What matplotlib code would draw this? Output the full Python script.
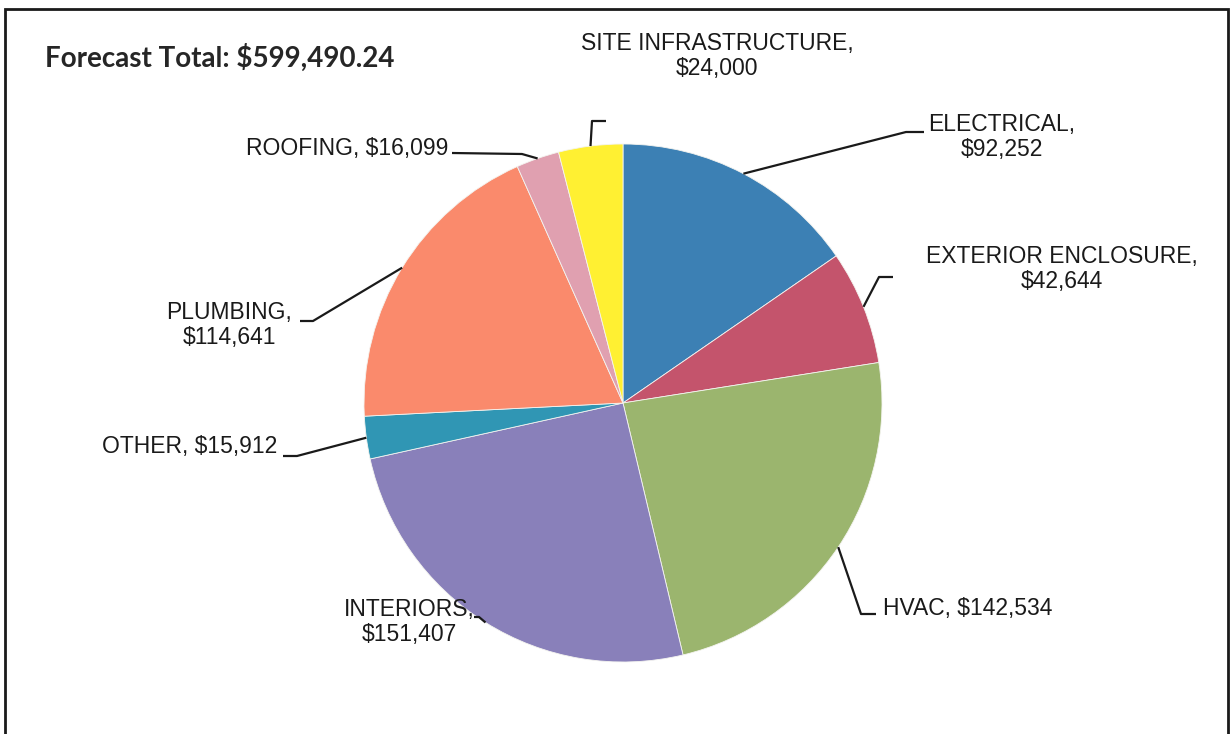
import numpy as np
import matplotlib.pyplot as plt
from matplotlib.patches import Rectangle

W, H = 1231, 734

categories = ["ELECTRICAL", "EXTERIOR ENCLOSURE", "HVAC", "INTERIORS",
              "OTHER", "PLUMBING", "ROOFING", "SITE INFRASTRUCTURE"]
values = [92252, 42644, 142534, 151407, 15912, 114641, 16099, 24000]
colors = ["#3C80B4", "#C4546C", "#9BB56E", "#8980BA",
          "#3096B4", "#FA8A6C", "#E0A0B0", "#FFF032"]
title_text = "Forecast Total: $599,490.24"

# label layout (pixel coords, y from top): text pos, alignment, elbow point, line end near text
label_layout = {
    "ELECTRICAL":          dict(text=(1002, 137), ha="center", lines="ELECTRICAL,\n$92,252", elbow=(906, 132), end=(924, 132)),
    "EXTERIOR ENCLOSURE":  dict(text=(1062, 269), ha="center", lines="EXTERIOR ENCLOSURE,\n$42,644", elbow=(879, 277), end=(893, 277)),
    "HVAC":                dict(text=(883, 608), ha="left", lines="HVAC, $142,534", elbow=(861, 614), end=(876, 614)),
    "INTERIORS":           dict(text=(409, 622), ha="center", lines="INTERIORS,\n$151,407", elbow=(479, 617), end=(474, 617)),
    "OTHER":               dict(text=(277, 446), ha="right", lines="OTHER, $15,912", elbow=(297, 456), end=(283, 456)),
    "PLUMBING":            dict(text=(229, 325), ha="center", lines="PLUMBING,\n$114,641", elbow=(313, 321), end=(300, 321)),
    "ROOFING":             dict(text=(448, 148), ha="right", lines="ROOFING, $16,099", elbow=(522, 154), end=(452, 153)),
    "SITE INFRASTRUCTURE": dict(text=(717, 56), ha="center", lines="SITE INFRASTRUCTURE,\n$24,000", elbow=(592, 121), end=(606, 121)),
}

def py(y):
    return H - y

fig = plt.figure(figsize=(W / 100, H / 100), dpi=100)
ax = fig.add_axes([0, 0, 1, 1])

cx, cy, r = 623, 403, 259
wedges, _ = ax.pie(values, colors=colors, startangle=90, counterclock=False,
                   center=(cx, py(cy)), radius=r, frame=True,
                   wedgeprops=dict(edgecolor="#F4F4F0", linewidth=0.6))
ax.set_xlim(0, W)
ax.set_ylim(0, H)
ax.set_aspect("equal")
ax.axis("off")

# border box
ax.add_patch(Rectangle((5, -20), 1223, py(9) + 20, fill=False,
                       edgecolor="#1a1a1a", linewidth=2, clip_on=False))

ax.text(45, py(58), title_text, fontsize=20, fontweight="bold",
        family="Lato", color="#262626", ha="left", va="center")

for w, name in zip(wedges, categories):
    lay = label_layout[name]
    mid = np.deg2rad((w.theta1 + w.theta2) / 2)
    ax_x = cx + r * np.cos(mid)
    ax_y = py(cy) + r * np.sin(mid)
    ex, ey = lay["elbow"]
    tx, ty = lay["end"]
    ax.plot([ax_x, ex, tx], [ax_y, py(ey), py(ty)], color="#1a1a1a", lw=1.6,
            solid_capstyle="butt")
    x, y = lay["text"]
    ax.text(x, py(y), lay["lines"], fontsize=16.5, family="Liberation Sans",
            color="#1a1a1a", ha=lay["ha"], va="center", multialignment="center",
            linespacing=1.1)

fig.savefig("out.png", dpi=100, facecolor="white")
